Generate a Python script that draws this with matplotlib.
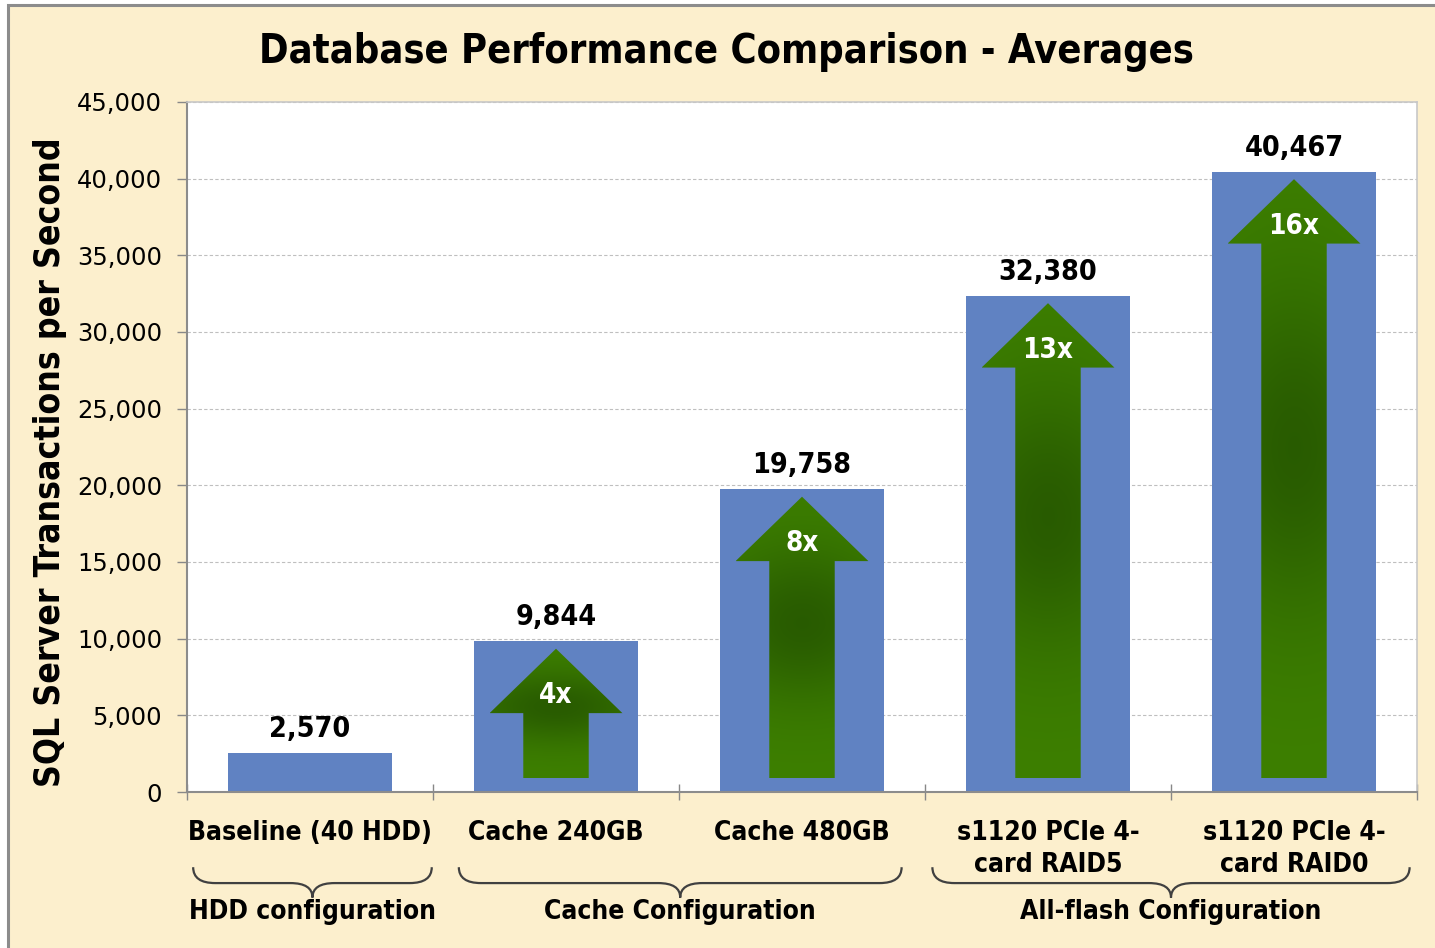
import numpy as np
import matplotlib
matplotlib.use("Agg")
import matplotlib.pyplot as plt
from matplotlib.patches import Polygon, Rectangle, PathPatch
from matplotlib.path import Path
import matplotlib.transforms as mtransforms

# data
categories = ["Baseline (40 HDD)", "Cache 240GB", "Cache 480GB",
              "s1120 PCIe 4-\ncard RAID5", "s1120 PCIe 4-\ncard RAID0"]
tps = [2570, 9844, 19758, 32380, 40467]
speedup = [None, "4x", "8x", "13x", "16x"]
groups = ["HDD configuration", "Cache Configuration", "All-flash Configuration"]
group_first = [0, 1, 3]
group_last = [0, 2, 4]

COND = ["DejaVu Sans Condensed", "DejaVu Sans"]
BAR = "#6082C2"
CREAM = "#FCEFCD"

fig = plt.figure(figsize=(14.35, 9.48), dpi=100, facecolor="white")
fig.patches.append(Rectangle((8 / 1435, -0.02), 1.1, 1 - 5 / 948 + 0.02,
                             transform=fig.transFigure, facecolor=CREAM,
                             edgecolor="#8C8C8C", linewidth=2.2, zorder=-10))

ax = fig.add_axes([187 / 1435, 1 - 792 / 948, 1230 / 1435, 690 / 948])
ax.set_facecolor("white")

x = np.arange(len(categories))
ax.bar(x, tps, width=0.665, color=BAR, zorder=2)

# value labels
for xi, v in zip(x, tps):
    ax.annotate(f"{v:,}", (xi, v), xytext=(0, 7), textcoords="offset points",
                ha="center", va="bottom", fontsize=20.5, fontweight="bold",
                family=COND, fontstretch="condensed", zorder=5)

# green gradient arrows inside the bars
light = np.array([0.24, 0.50, 0.0])
dark = np.array([0.16, 0.36, 0.0])
hw, sw, y0, head_len = 0.27, 0.133, 900, 4200
for xi, v, lab in zip(x, tps, speedup):
    if lab is None:
        continue
    yt = v - 500
    yb = yt - head_len
    verts = [(xi - sw, y0), (xi + sw, y0), (xi + sw, yb), (xi + hw, yb),
             (xi, yt), (xi - hw, yb), (xi - sw, yb)]
    poly = Polygon(verts, closed=True, facecolor="none", edgecolor="none", zorder=3)
    ax.add_patch(poly)
    gy, gx = np.mgrid[0:1:200j, -1:1:100j]
    f = np.exp(-((gy - 0.55) / 0.28) ** 2 - (gx / 1.4) ** 2)
    img = light + (dark - light) * f[..., None]
    im = ax.imshow(img, extent=(xi - hw, xi + hw, y0, yt), origin="lower",
                   aspect="auto", zorder=3, interpolation="bilinear")
    im.set_clip_path(poly)
    ax.text(xi, yb + 1150, lab, ha="center", va="center", color="white",
            fontsize=20, fontweight="bold", family=COND, fontstretch="condensed",
            zorder=4)

ax.set_xlim(-0.5, len(categories) - 0.5)
ax.set_ylim(0, 45000)

# axes styling
ax.set_yticks(np.arange(0, 45001, 5000))
ax.set_yticklabels([f"{t:,}" for t in range(0, 45001, 5000)], fontsize=17.5)
ax.tick_params(axis="y", length=7, width=1, color="#888888", pad=11)
ax.set_xticks(x)
ax.set_xticklabels(categories, fontsize=19, fontweight="bold", family=COND,
                   fontstretch="condensed", linespacing=1.3)
ax.set_xticks(np.arange(-0.5, len(categories)), minor=True)
ax.tick_params(axis="x", which="major", length=0, pad=20)
ax.tick_params(axis="x", which="minor", length=12, direction="inout",
               color="#888888", width=1)
ax.grid(axis="y", color="#BFBFBF", linestyle=(0, (3, 2)), linewidth=0.8, zorder=0)
ax.set_axisbelow(True)
for s in ["left", "bottom"]:
    ax.spines[s].set_color("#8C8C8C")
    ax.spines[s].set_linewidth(1.5)
for s in ["top", "right"]:
    ax.spines[s].set_color("#C8C8C8")
    ax.spines[s].set_linewidth(1.2)

# group braces under the category labels
brace_pad = [(0.475, 0.495), (0.395, 0.405), (0.47, 0.47)]
trans = mtransforms.blended_transform_factory(ax.transData, ax.transAxes)
y_top, y_mid, y_tip, r = -0.109, -0.132, -0.153, 0.09
for name, a, b, (pl, pr) in zip(groups, group_first, group_last, brace_pad):
    x0, x1 = a - pl, b + pr
    xc = (x0 + x1) / 2
    verts = [(x0, y_top), (x0, y_mid), (x0 + r, y_mid),
             (xc - r, y_mid),
             (xc, y_mid), (xc, y_tip),
             (xc, y_mid), (xc + r, y_mid),
             (x1 - r, y_mid),
             (x1, y_mid), (x1, y_top)]
    codes = [Path.MOVETO, Path.CURVE3, Path.CURVE3, Path.LINETO,
             Path.CURVE3, Path.CURVE3, Path.CURVE3, Path.CURVE3,
             Path.LINETO, Path.CURVE3, Path.CURVE3]
    ax.add_patch(PathPatch(Path(verts, codes), transform=trans, facecolor="none",
                           edgecolor="#404040", linewidth=1.6, clip_on=False))
    ax.text(xc, -0.174, name, transform=trans, ha="center", va="center",
            fontsize=19, fontweight="bold", family=COND, fontstretch="condensed")

fig.text(0.506, 1 - 52 / 948, "Database Performance Comparison - Averages",
         ha="center", va="center", fontsize=28.5, fontweight="bold",
         family=COND, fontstretch="condensed")
fig.text(50 / 1435, 1 - 462 / 948, "SQL Server Transactions per Second",
         rotation=90, ha="center", va="center", fontsize=25.5, fontweight="bold",
         family=COND, fontstretch="condensed")

fig.savefig("out.png", dpi=100, facecolor=fig.get_facecolor())
